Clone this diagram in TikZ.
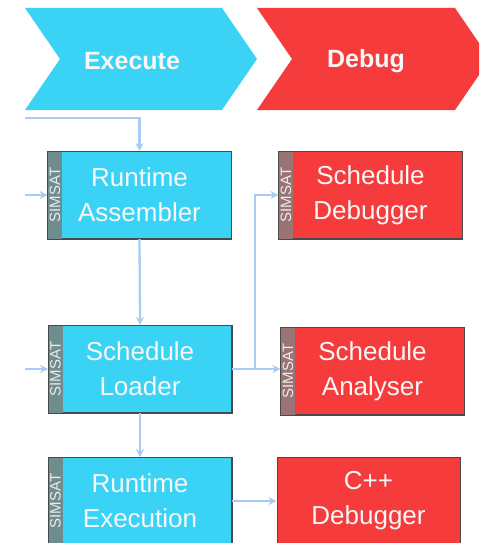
\documentclass[tikz,border=0pt]{standalone}
\usepackage{fontspec}
\setmainfont{Liberation Sans}
\usetikzlibrary{arrows.meta}
\definecolor{cy}{HTML}{3AD3F6}
\definecolor{rd}{HTML}{F53B3B}
\definecolor{cystrip}{HTML}{6F8C8E}
\definecolor{rdstrip}{HTML}{9A7474}
\definecolor{conn}{HTML}{A8CCF4}
\definecolor{edge}{HTML}{4A4A4A}
\tikzset{
  box/.style={draw=edge, line width=1pt, minimum width=183pt, minimum height=87pt,
    inner sep=0pt, text=white!94!gray, align=center, font=\fontsize{26}{35}\selectfont},
  bluebox/.style={box, fill=cy},
  redbox/.style={box, fill=rd},
  simsat/.style={rotate=90, text=white!85!gray, font=\fontsize{15}{15}\selectfont, inner sep=0pt},
  conn/.style={draw=conn, line width=2.3pt, -{Stealth[length=8pt,width=8pt]}},
  head/.style={text=white!94!gray, font=\bfseries\fontsize{25}{25}\selectfont}
}
\begin{document}
\begin{tikzpicture}[x=1pt,y=-1pt]
\clip (0,0) rectangle (479,543);
\fill[white] (0,0) rectangle (479,543);
% chevrons
\fill[cy] (25,8) -- (222,8) -- (257,59) -- (222,110) -- (25,110) -- (60,59) -- cycle;
\fill[rd] (257,8) -- (455,8) -- (490,59) -- (455,110) -- (257,110) -- (292,59) -- cycle;
\node[head] (hexe) at (132,61) {Execute};
\node[head] (hdbg) at (366,61) {Debug};
% boxes
\node[bluebox] (ra) at (139.5,195) {Runtime\\Assembler};
\node[bluebox] (sl) at (140,369) {Schedule\\Loader};
\node[bluebox] (re) at (140,501) {Runtime\\Execution};
\node[redbox] (sd) at (370.5,195) {Schedule\\Debugger};
\node[redbox] (sa) at (372.5,371) {Schedule\\Analyser};
\node[redbox] (cpp) at (368.5,501) {C++\\Debugger};
% strips
\foreach \b/\c in {ra/cystrip, sl/cystrip, re/cystrip, sd/rdstrip, sa/rdstrip}{
  \fill[\c] ([shift={(0.5,-0.5)}]\b.north west) rectangle ([shift={(14.5,0.5)}]\b.south west);
  \draw[edge, line width=1pt] (\b.north west) rectangle (\b.south east);
}
\node[simsat] (s1) at ([xshift=7.5pt]ra.west) {SIMSAT};
\node[simsat] (s2) at ([xshift=7.5pt]sl.west) {SIMSAT};
\node[simsat] (s3) at ([xshift=7.5pt]re.west) {SIMSAT};
\node[simsat] (s4) at ([xshift=7.5pt]sd.west) {SIMSAT};
\node[simsat] (s5) at ([xshift=7.5pt]sa.west) {SIMSAT};
% connectors
\coordinate (in1) at (25,118);
\coordinate (in2) at (25,195);
\coordinate (in3) at (25,369);
\coordinate (br) at (255,369);
\draw[conn] (in1) -| (ra.north);
\draw[conn] (in2) -- (ra.west);
\draw[conn] (in3) -- (sl.west);
\draw[conn] (ra.south) -- (sl.north);
\draw[conn] (sl.south) -- (re.north);
\draw[conn] (sl.east) -- (sl.east -| sa.west);
\draw[conn] (br) |- (sd.west);
\draw[conn] (re.east) -- (re.east -| cpp.west);
\end{tikzpicture}
\end{document}
